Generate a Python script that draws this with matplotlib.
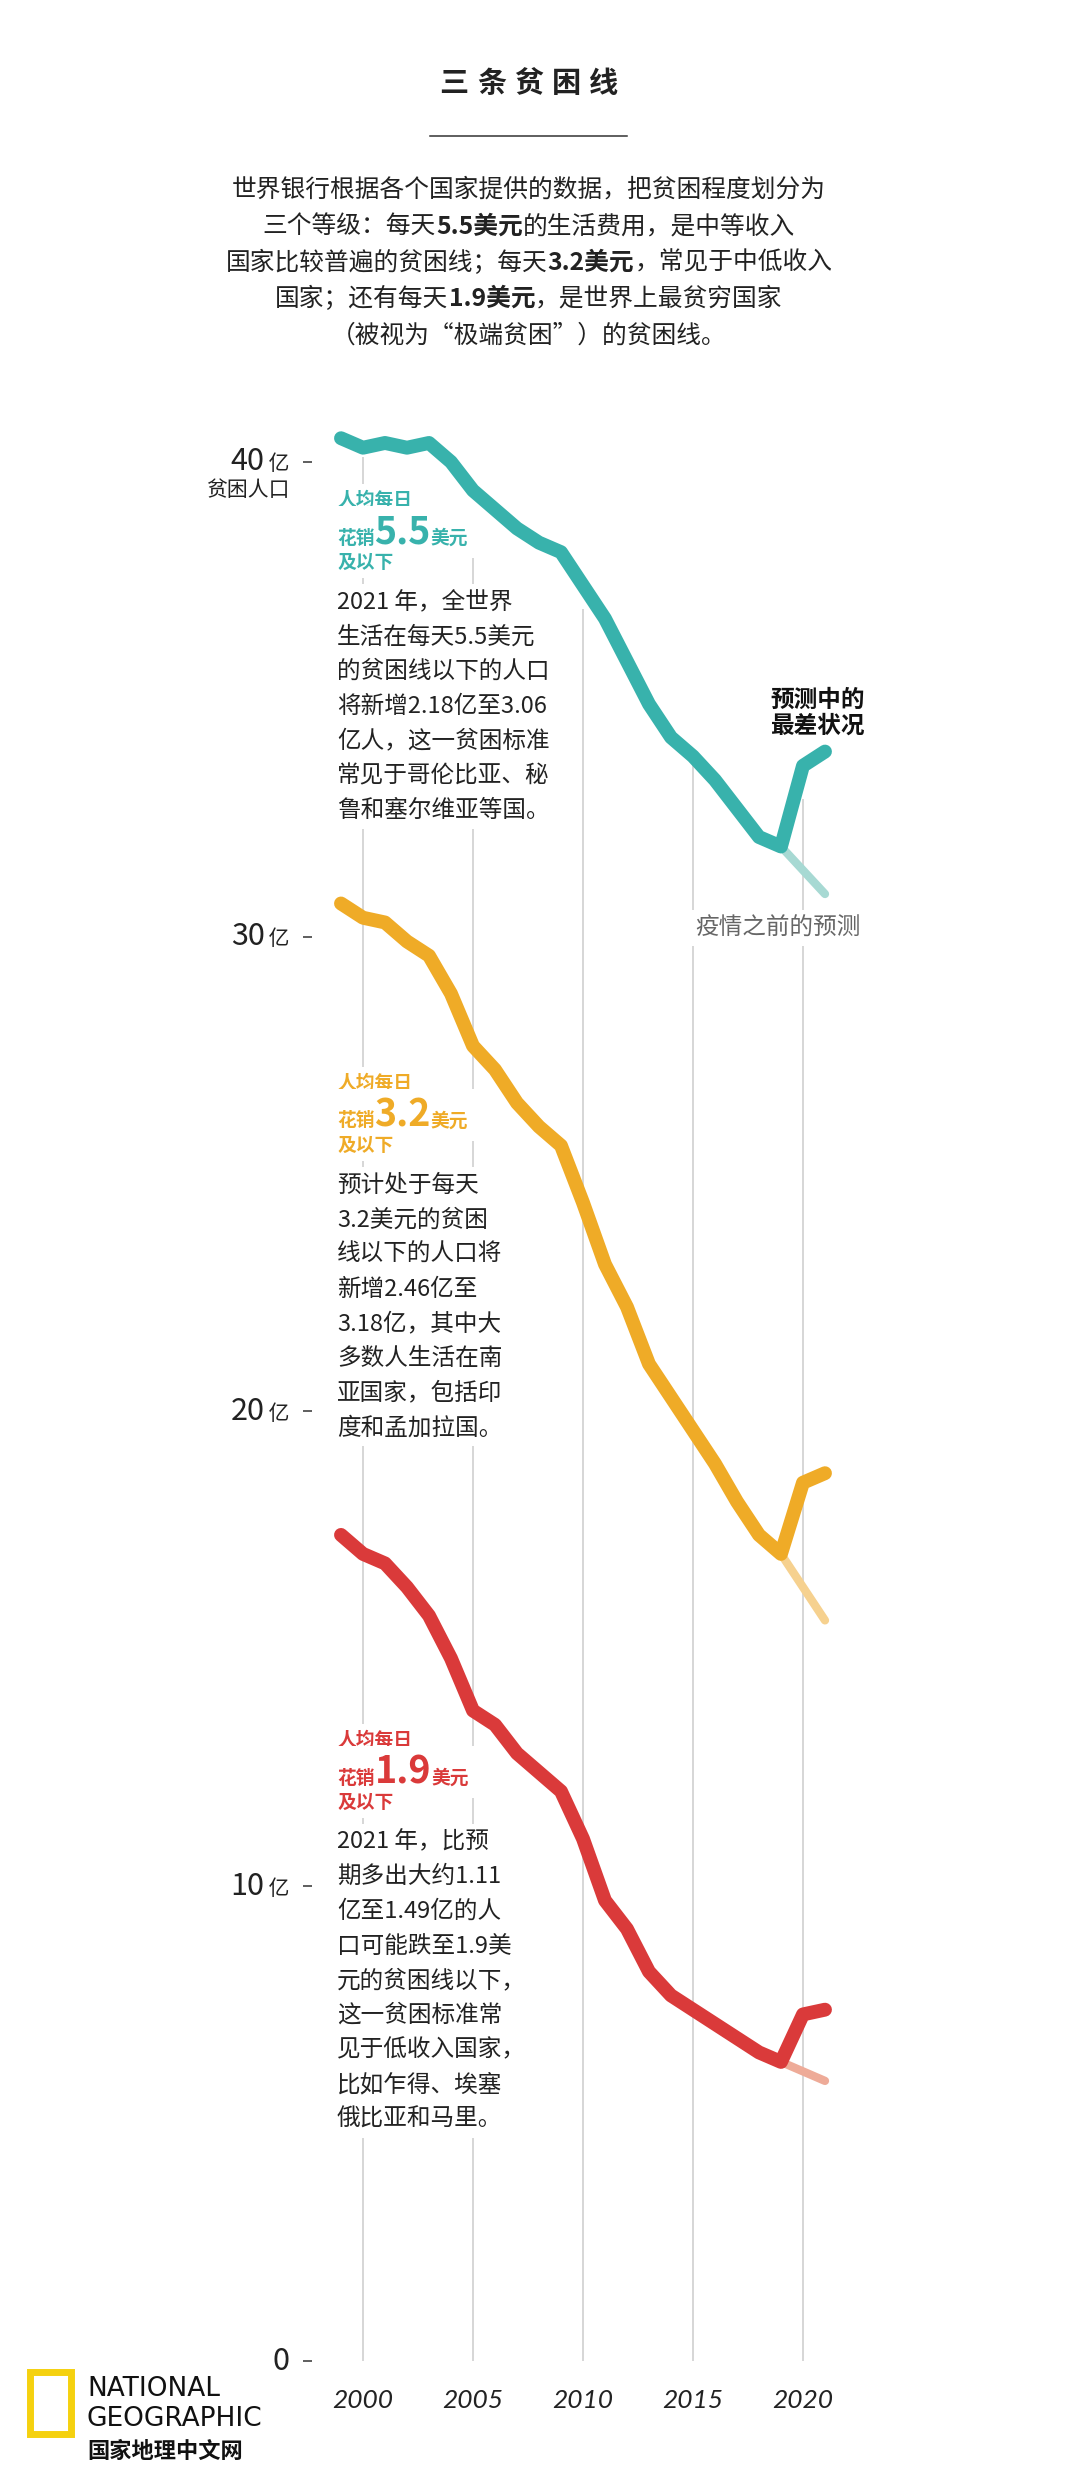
import matplotlib.pyplot as plt
from matplotlib.offsetbox import TextArea, HPacker, AnnotationBbox
from matplotlib.patches import Rectangle
from matplotlib.lines import Line2D

plt.rcParams['font.family'] = ['Noto Sans CJK SC', 'DejaVu Sans']

# poverty headcount, in 亿 people
years = list(range(1999, 2022))
line_55 = [40.5, 40.3, 40.4, 40.3, 40.4, 40.0, 39.4, 39.0, 38.6, 38.3, 38.1, 37.4,
           36.7, 35.8, 34.9, 34.2, 33.8, 33.3, 32.7, 32.1, 31.9, 33.6, 33.9]
line_32 = [30.7, 30.4, 30.3, 29.9, 29.6, 28.8, 27.7, 27.2, 26.5, 26.0, 25.6, 24.4,
           23.1, 22.2, 21.0, 20.3, 19.6, 18.9, 18.1, 17.4, 17.0, 18.5, 18.7]
line_19 = [17.4, 17.0, 16.8, 16.3, 15.7, 14.8, 13.7, 13.4, 12.8, 12.4, 12.0, 11.0,
           9.7, 9.1, 8.2, 7.7, 7.4, 7.1, 6.8, 6.5, 6.3, 7.3, 7.4]

# projection made before the pandemic
pre_years = [2019, 2021]
pre_55 = [31.9, 30.9]
pre_32 = [17.0, 15.6]
pre_19 = [6.3, 5.9]

grid_years = [2000, 2005, 2010, 2015, 2020]
grid_tops = [40.1, 38.9, 36.9, 33.7, 32.9]
yticks = [0, 10, 20, 30, 40]

teal, teal_l = '#38b2ac', '#a7d9d3'
orange, orange_l = '#efab27', '#f6d18f'
red, red_l = '#da3a3a', '#eeab98'
ink = '#222222'

W, H = 1074, 2492
fig = plt.figure(figsize=(W / 100, H / 100), dpi=100)
ax = fig.add_axes([312 / W, (H - 2361) / H, 588 / W, 1961 / H])
ax.set_xlim(1997.682, 2024.41)
ax.set_ylim(0, 41.305)
ax.patch.set_visible(False)
for s in ax.spines.values():
    s.set_visible(False)

ax.set_yticks(yticks)
ax.set_yticklabels([])
ax.tick_params(axis='y', direction='out', length=6.5, width=1.1, color='#333333')
ax.set_xticks(grid_years)
ax.set_xticklabels([str(y) for y in grid_years], fontstyle='italic', fontsize=19,
                   family=['Lato', 'DejaVu Sans'], color=ink)
ax.tick_params(axis='x', length=0, pad=20)

ax.vlines(grid_years, 0, grid_tops, colors='#d6d6d6', linewidth=1.4, zorder=1)

for vals, pre, col, light in [(line_55, pre_55, teal, teal_l),
                              (line_32, pre_32, orange, orange_l),
                              (line_19, pre_19, red, red_l)]:
    ax.plot(pre_years, pre, color=light, lw=6, solid_capstyle='round',
            zorder=3, clip_on=False)
    ax.plot(years, vals, color=col, lw=10, solid_capstyle='round',
            solid_joinstyle='round', zorder=4, clip_on=False)


def ta(s, size, weight='normal', color=ink):
    return TextArea(s, textprops=dict(fontsize=size, fontweight=weight, color=color))


def put(children, x, y, ha=0.0, white=False, xycoords='figure pixels', z=2.5):
    box = HPacker(children=children, align='baseline', pad=0, sep=0)
    if xycoords == 'figure pixels':
        y = H - y
    ab = AnnotationBbox(box, (x, y), xycoords=xycoords, box_alignment=(ha, 0.5),
                        frameon=white, pad=0.5,
                        bboxprops=dict(facecolor='white', edgecolor='none'))
    ab.set_zorder(z)
    ab.set_clip_on(False)
    ax.add_artist(ab)


# title, rule and intro
for i, ch in enumerate('三条贫困线'):
    fig.text((529 + (i - 2) * 37.5) / W, 1 - 83 / H, ch, ha='center', va='center',
             fontsize=21, fontweight='bold', color=ink)
fig.add_artist(Line2D([430 / W, 627 / W], [1 - 136 / H] * 2,
                      transform=fig.transFigure, color='#333333', lw=1.1))

intro = [
    [('世界银行根据各个国家提供的数据，把贫困程度划分为', 'normal')],
    [('三个等级：每天', 'normal'), ('5.5美元', 'bold'), ('的生活费用，是中等收入', 'normal')],
    [('国家比较普遍的贫困线；每天', 'normal'), ('3.2美元', 'bold'), ('，常见于中低收入', 'normal')],
    [('国家；还有每天', 'normal'), ('1.9美元', 'bold'), ('，是世界上最贫穷国家', 'normal')],
    [('（被视为“极端贫困”）的贫困线。', 'normal')],
]
for k, parts in enumerate(intro):
    put([ta(s, 17.8, w) for s, w in parts], 529, 190 + k * 36.3, ha=0.5)

# y tick labels
for v in yticks:
    kids = [ta(str(v), 22)]
    if v:
        kids.append(ta(' 亿', 15))
    put(kids, 290, v, ha=1.0, xycoords=('figure pixels', 'data'))
fig.text(290 / W, 1 - 490 / H, '贫困人口', ha='right', va='center', fontsize=15, color=ink)

# line labels
blocks = [
    (teal, '5.5', 500, 602, ['2021 年，全世界', '生活在每天5.5美元', '的贫困线以下的人口',
                             '将新增2.18亿至3.06', '亿人，这一贫困标准', '常见于哥伦比亚、秘',
                             '鲁和塞尔维亚等国。']),
    (orange, '3.2', 1083, 1185, ['预计处于每天', '3.2美元的贫困', '线以下的人口将',
                                 '新增2.46亿至', '3.18亿，其中大', '多数人生活在南',
                                 '亚国家，包括印', '度和孟加拉国。']),
    (red, '1.9', 1740, 1842, ['2021 年，比预', '期多出大约1.11', '亿至1.49亿的人',
                              '口可能跌至1.9美', '元的贫困线以下，', '这一贫困标准常',
                              '见于低收入国家，', '比如乍得、埃塞', '俄比亚和马里。']),
]
for col, amount, hy, by, body in blocks:
    put([ta('人均每日', 13.5, 'bold', col)], 337, hy, white=True)
    put([ta('花销', 13.5, 'bold', col), ta(amount, 27, 'bold', col), ta('美元', 13.5, 'bold', col)],
        337, hy + 32, white=True)
    put([ta('及以下', 13.5, 'bold', col)], 337, hy + 62, white=True)
    for k, s in enumerate(body):
        put([ta(s, 17)], 337, by + k * 34.7, white=True)

fig.text(770 / W, 1 - 700 / H, '预测中的', ha='left', va='center', fontsize=17,
         fontweight='bold', color='#111111')
fig.text(770 / W, 1 - 726 / H, '最差状况', ha='left', va='center', fontsize=17,
         fontweight='bold', color='#111111')
put([ta('疫情之前的预测', 17, color='#666666')], 695, 928, white=True)

# logo
fig.add_artist(Rectangle((29.5 / W, 1 - 2433.5 / H), 41 / W, 62 / H, transform=fig.transFigure,
                         facecolor='white', edgecolor='#f5d10f', lw=5))
logo_font = ['Liberation Sans Narrow', 'DejaVu Sans']
fig.text(87 / W, 1 - 2389 / H, 'NATIONAL', ha='left', va='center', fontsize=19,
         family=logo_font, fontweight='medium', color='#111111')
fig.text(87 / W, 1 - 2419 / H, 'GEOGRAPHIC', ha='left', va='center', fontsize=19,
         family=logo_font, fontweight='medium', color='#111111')
fig.text(87 / W, 1 - 2451 / H, '国家地理中文网', ha='left', va='center', fontsize=16,
         fontweight='bold', color='#111111')

fig.savefig('out.png', dpi=100)
